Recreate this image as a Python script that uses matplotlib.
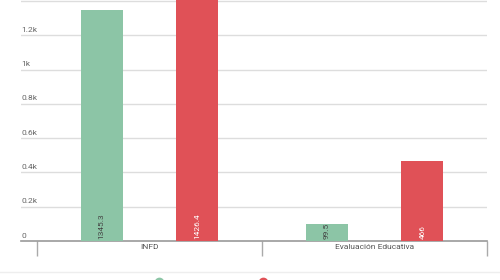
import matplotlib.pyplot as plt
import numpy as np
from matplotlib.lines import Line2D

# data
categories = ['INFD', 'Evaluación Educativa']
serie_verde = [1345.3, 99.5]
serie_roja = [1426.4, 466]
ticks_y = [0, 200, 400, 600, 800, 1000, 1200, 1400]
ticks_txt = ['0', '0.2k', '0.4k', '0.6k', '0.8k', '1k', '1.2k', '']

VERDE = '#8cc5a6'
ROJO = '#e05157'
GRIS = '#666666'

plt.rcParams['font.family'] = ['Roboto', 'DejaVu Sans']

fig = plt.figure(figsize=(5, 2.8), dpi=100)
ax = fig.add_axes([0.042, 1 - 241 / 280, 0.932, 241 / 280])

x = np.arange(len(categories))
w = 0.187
off = 0.213
ax.bar(x - off, serie_verde, w, color=VERDE, zorder=3)
ax.bar(x + off, serie_roja, w, color=ROJO, zorder=3)

# value labels inside bars, rotated
for i in range(len(categories)):
    ax.text(x[i] - off, 12, str(serie_verde[i]), rotation=90, ha='center', va='bottom',
            fontsize=6, color='#444444', zorder=4)
    ax.text(x[i] + off, 12, str(serie_roja[i]), rotation=90, ha='center', va='bottom',
            fontsize=6, color='white', zorder=4)

ax.set_xlim(-0.571, 1.5)
ax.set_ylim(0, 1406)

# grid lines and y labels sitting above them (top one is cut off in the reference)
for v, t in zip(ticks_y, ticks_txt):
    if v > 0:
        ax.axhline(v, color='#dddddd', lw=1, zorder=1)
    if t:
        ax.text(0.0, v + 14, t, transform=ax.get_yaxis_transform(), ha='left', va='bottom',
                fontsize=6, color=GRIS)

ax.set_yticks([])
for s in ['top', 'right', 'left']:
    ax.spines[s].set_visible(False)
ax.spines['bottom'].set_color('#999999')
ax.spines['bottom'].set_linewidth(1.2)

# category separators and labels
ax.set_xticks([-0.5, 0.5, 1.5])
ax.set_xticklabels([])
ax.tick_params(axis='x', length=11, width=1, color='#aaaaaa', direction='out')
for i, c in enumerate(categories):
    ax.text(x[i], -0.012, c, transform=ax.get_xaxis_transform(), ha='center', va='top',
            fontsize=6, color='#555555')

# legend area, cut off at the bottom of the picture
fig.add_artist(Line2D([0, 1], [1 - 272 / 280] * 2, color='#eeeeee', lw=1))
fig.add_artist(Line2D([159 / 500], [1 - 282 / 280], marker='o', ms=6, color=VERDE, lw=0,
                      clip_on=False))
fig.add_artist(Line2D([263 / 500], [1 - 282 / 280], marker='o', ms=6, color=ROJO, lw=0,
                      clip_on=False))

fig.savefig('out.png', dpi=100)
